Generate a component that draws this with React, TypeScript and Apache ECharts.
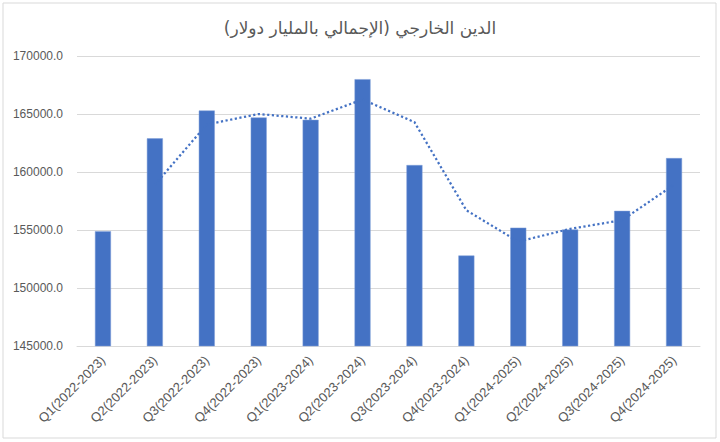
import React, { useEffect, useRef } from "react";
import * as echarts from "echarts";

const categories = [
  "Q1(2022-2023)", "Q2(2022-2023)", "Q3(2022-2023)", "Q4(2022-2023)",
  "Q1(2023-2024)", "Q2(2023-2024)", "Q3(2023-2024)", "Q4(2023-2024)",
  "Q1(2024-2025)", "Q2(2024-2025)", "Q3(2024-2025)", "Q4(2024-2025)",
];
const debtValues = [
  154900, 162900, 165300, 164700, 164500, 168000,
  160600, 152800, 155200, 155050, 156650, 161200,
];
const trendValues: (number | null)[] = [
  null, 158900, 164100, 165000, 164600, 166250,
  164300, 156700, 154000, 155100, 155850, 158900,
];
const yTicks = { min: 145000, max: 170000, interval: 5000 };
const titleText = "الدين الخارجي (الإجمالي بالمليار دولار)";

export default function App() {
  const ref = useRef<HTMLDivElement>(null);
  useEffect(() => {
    document.body.style.margin = "0";
    if (!ref.current) return;
    const chart = echarts.init(ref.current, undefined, { renderer: "svg" });
    const font = "'Liberation Sans', Arial, sans-serif";
    chart.setOption({
      animation: false,
      backgroundColor: "#ffffff",
      title: {
        text: titleText,
        left: "center",
        top: 14,
        textStyle: { color: "#595959", fontSize: 17, fontWeight: "normal", fontFamily: "'DejaVu Sans', 'Noto Sans', sans-serif" },
      },
      graphic: [
        {
          type: "rect",
          shape: { x: 3, y: 3, width: 713, height: 435 },
          style: { fill: "none", stroke: "#D9D9D9", lineWidth: 1 },
          silent: true,
        },
      ],
      grid: { left: 77, right: 20, top: 56, bottom: 96, containLabel: false },
      xAxis: {
        type: "category",
        data: categories,
        axisLine: { lineStyle: { color: "#D9D9D9" } },
        axisTick: { show: false },
        axisLabel: {
          rotate: 45,
          color: "#595959",
          fontSize: 13,
          fontFamily: font,
          margin: 12,
          interval: 0,
        },
      },
      yAxis: {
        type: "value",
        min: yTicks.min,
        max: yTicks.max,
        interval: yTicks.interval,
        axisLine: { show: false },
        axisTick: { show: false },
        splitLine: { lineStyle: { color: "#D9D9D9" } },
        axisLabel: {
          color: "#595959",
          fontSize: 12,
          fontFamily: font,
          margin: 14,
          formatter: (v: number) => v.toFixed(1),
        },
      },
      series: [
        {
          type: "bar",
          data: debtValues,
          barWidth: 16,
          itemStyle: { color: "#4472C4", borderColor: "#7F9FD8", borderWidth: 0.5 },
        },
        {
          type: "line",
          data: trendValues,
          symbol: "none",
          connectNulls: false,
          z: 3,
          lineStyle: { color: "#4472C4", width: 2.25, type: [2.2, 2.5], cap: "butt" },
        },
      ],
    });
    return () => chart.dispose();
  }, []);
  return <div ref={ref} style={{ width: 720, height: 442 }} />;
}
